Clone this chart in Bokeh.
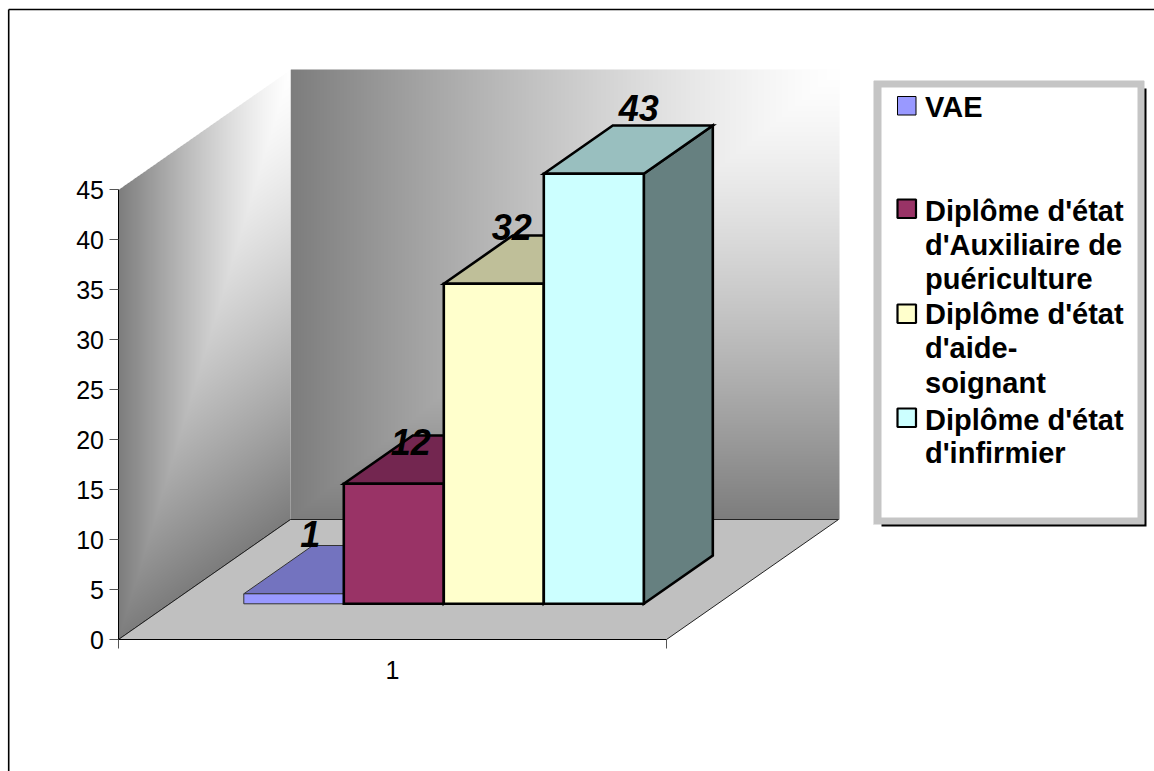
import numpy as np
from bokeh.plotting import figure
from bokeh.embed import file_html
from bokeh.resources import INLINE
from bokeh.models import Range1d, FixedTicker
from bokeh.core.properties import value

# ---- data ----
SERIES = ["VAE", "Diplôme d'état d'Auxiliaire de puériculture",
          "Diplôme d'état d'aide-soignant", "Diplôme d'état d'infirmier"]
VALUES = [1, 12, 32, 43]
CATEGORY = "1"
Y_TICKS = [0, 5, 10, 15, 20, 25, 30, 35, 40, 45]
FRONT = ["#9999FF", "#993366", "#FFFFCC", "#CCFFFF"]
TOP = ["#7373BF", "#732650", "#BFBF99", "#99BFBF"]
SIDE = ["#4D4D80", "#4D1A33", "#808066", "#668080"]
EDGE_W = [1, 2.6, 2.6, 2.6]
EDGE_C = ["#333333", "black", "black", "black"]
LEGEND_LINES = [["VAE"], ["Diplôme d'état", "d'Auxiliaire de", "puériculture"],
                ["Diplôme d'état", "d'aide-", "soignant"], ["Diplôme d'état", "d'infirmier"]]

# ---- layout (page px -> data) ----
W, H = 1154, 771
X0_PAGE, Y0_PAGE = 118, 639
PX = 0.1   # value units per pixel


def X(px):
    return px - X0_PAGE


def Y(py):
    return (Y0_PAGE - py) * PX


FONT = "Liberation Sans"
p = figure(width=W, height=H, output_backend="svg", toolbar_location=None,
           x_range=Range1d(X(0), X(W)), y_range=Range1d(Y(H), Y(0)),
           min_border_left=0, min_border_right=0, min_border_top=0, min_border_bottom=0)
p.grid.visible = False
p.outline_line_color = None
p.background_fill_color = "white"
p.border_fill_color = "white"

FLOOR_W, DEPTH_X, DEPTH_PX = 548, 172, 120
WALL_PX = 45 / PX


def shade(t):
    return 255 - 130 * np.clip(t, 0, 1) ** 1.3


def rgba(g, alpha=None):
    g = g.astype(np.uint32)
    a = np.full(g.shape, 255, dtype=np.uint32) if alpha is None else alpha.astype(np.uint32)
    return (a << 24) | (g << 16) | (g << 8) | g


# chart border: only its top and left edges fall inside the picture
p.line([X(8.2), X(8.2)], [Y(H), Y(9)], line_color="black", line_width=1.6)
p.line([X(8.2), X(W)], [Y(9), Y(9)], line_color="black", line_width=1.6)

# back wall gradient (corner at the top right)
bw, bh = FLOOR_W + 1, int(WALL_PX)
xx, yy = np.meshgrid(np.arange(bw) + 0.5, np.arange(bh) + 0.5)   # yy measured from the bottom
t = np.maximum(1 - xx / bw, 1 - yy / bh)
p.image_rgba(image=[rgba(shade(t))], x=DEPTH_X, y=DEPTH_PX * PX, dw=bw, dh=bh * PX)

# left wall gradient (sheared, alpha-masked)
lw, lh = DEPTH_X, int(WALL_PX + DEPTH_PX)
xx, yy = np.meshgrid(np.arange(lw) + 0.5, np.arange(lh) + 0.5)
u = xx / lw
v = 1 - (yy - u * DEPTH_PX) / WALL_PX
mask = (v >= 0) & (v <= 1)
t = np.maximum(1 - u, v)
p.image_rgba(image=[rgba(shade(t), mask * 255)], x=0, y=0, dw=lw, dh=lh * PX)
# soften the wall's upper edge; the lower one is drawn in black
p.line([0, DEPTH_X], [45 + 0.05, 45 + DEPTH_PX * PX + 0.05], line_color="white", line_width=1.2)
p.line([0, DEPTH_X], [0, DEPTH_PX * PX], line_color="black", line_width=1)

# floor
p.patch([0, FLOOR_W, FLOOR_W + DEPTH_X, DEPTH_X], [0, 0, DEPTH_PX * PX, DEPTH_PX * PX],
        fill_color="#C0C0C0", line_color="#222222", line_width=1)

# bars
BAR_W, BAR_DX, BAR_DY = 100, 69, 48.3 * PX
BASE = Y(603.3)
first = X(243.3)
xs, ys, fc, lc, lw_ = [], [], [], [], []
for i, v_ in enumerate(VALUES):
    l, r = first + i * BAR_W, first + (i + 1) * BAR_W
    b, t_ = BASE, BASE + v_
    faces = [
        ([r, r + BAR_DX, r + BAR_DX, r], [b, b + BAR_DY, t_ + BAR_DY, t_], SIDE[i]),
        ([l, l + BAR_DX, r + BAR_DX, r], [t_, t_ + BAR_DY, t_ + BAR_DY, t_], TOP[i]),
        ([l, r, r, l], [b, b, t_, t_], FRONT[i]),
    ]
    for fx, fy, col in faces:
        xs.append(fx); ys.append(fy); fc.append(col); lc.append(EDGE_C[i]); lw_.append(EDGE_W[i])
p.patches(xs, ys, fill_color=fc, line_color=lc, line_width=lw_, line_join="miter")

# value labels, placed relative to each bar's rear-left top corner (middle of the digits)
LABEL_OFF = [(-2.5, 12), (-2, -6), (-1, 9), (26, 18)]
lx = [first + i * BAR_W + BAR_DX + LABEL_OFF[i][0] for i in range(4)]
ly = [BASE + VALUES[i] + BAR_DY + LABEL_OFF[i][1] * PX for i in range(4)]
p.text(lx, ly, text=[str(v_) for v_ in VALUES], text_font=value(FONT), text_font_style="bold italic",
       text_font_size="36px", text_align="center", text_baseline="middle", text_color="black")

# legend frame
LX0, LX1, LY0, LY1 = 873, 1144, 80, 524
p.quad(left=X(LX0 + 8), right=X(LX1 + 2), top=Y(LY0 + 8), bottom=Y(LY1 + 2), fill_color="black", line_color=None)
lgw, lgh = LX1 - LX0, LY1 - LY0
xx, yy = np.meshgrid(np.arange(lgw), np.arange(lgh))
checker = np.where((xx + yy) % 2 == 0, 160, 235).astype(np.uint32)
p.image_rgba(image=[rgba(checker)], x=X(LX0), y=Y(LY1), dw=lgw, dh=lgh * PX)
p.quad(left=X(LX0 + 8), right=X(LX1 - 7), top=Y(LY0 + 7), bottom=Y(LY1 - 7), fill_color="white", line_color=None)

# legend entries
SW_TOP = [96, 199, 304, 408]
BASELINES = [[116], [220, 254, 288], [323, 357, 392], [429, 462]]
p.quad(left=[X(897)] * 4, right=[X(915.5)] * 4, top=[Y(s) for s in SW_TOP], bottom=[Y(s + 18.5) for s in SW_TOP],
       fill_color=FRONT, line_color="black", line_width=[1, 2.2, 2.2, 2.2])
CAP = 10  # half the height of a capital, px
tx, ty, tt = [], [], []
for lines, bases in zip(LEGEND_LINES, BASELINES):
    for s, b in zip(lines, bases):
        tx.append(X(924.5)); ty.append(Y(b - CAP)); tt.append(s)
p.text(tx, ty, text=tt, text_font=value(FONT), text_font_style="bold", text_font_size="29px",
       text_align="left", text_baseline="middle", text_color="black")

# axes
ya = p.yaxis[0]
ya.fixed_location = -0.5
ya.ticker = FixedTicker(ticks=Y_TICKS)
ya.bounds = (0, 45)
ya.axis_line_color = "black"
ya.major_tick_in = 0
ya.major_tick_out = 9
ya.minor_tick_line_color = None
ya.major_tick_line_color = "#555555"
ya.major_label_text_font = FONT
ya.major_label_text_font_size = "25px"
ya.major_label_text_color = "black"
ya.major_label_standoff = 5

xa = p.xaxis[0]
xa.fixed_location = 0
xa.ticker = FixedTicker(ticks=[FLOOR_W / 2], minor_ticks=[0, FLOOR_W])
xa.major_label_overrides = {FLOOR_W / 2: CATEGORY}
xa.bounds = (0, FLOOR_W)
xa.axis_line_color = "black"
xa.major_tick_line_color = None
xa.major_tick_in = 0
xa.major_tick_out = 0
xa.minor_tick_in = 0
xa.minor_tick_out = 9
xa.minor_tick_line_color = "#555555"
xa.major_label_text_font = FONT
xa.major_label_text_font_size = "25px"
xa.major_label_text_color = "black"
xa.major_label_standoff = 12

open("out.html", "w").write(file_html(p, INLINE))
